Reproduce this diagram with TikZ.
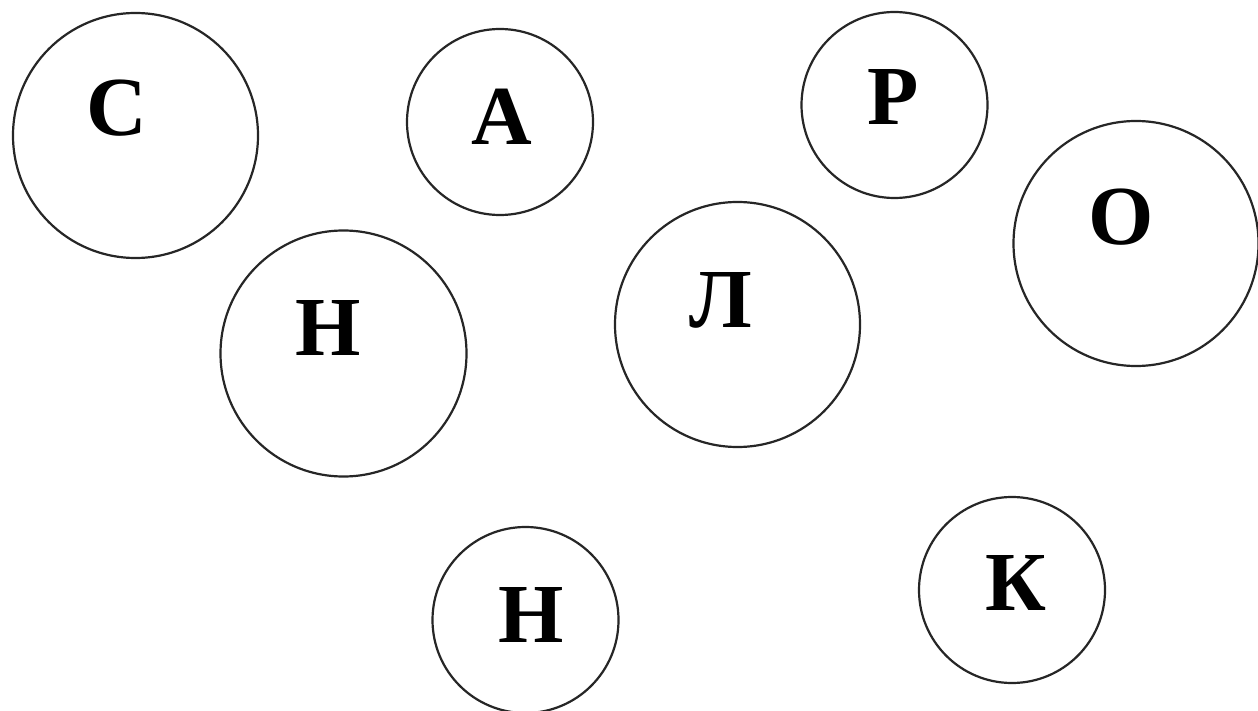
\documentclass[tikz,border=0pt]{standalone}
\usepackage{fontspec}
\setmainfont{Liberation Serif}
\begin{document}
\begin{tikzpicture}[x=1pt,y=-1pt,
  ring/.style={circle,draw=black!85,line width=2.2pt,inner sep=0pt,minimum size=#1},
  letter/.style={anchor=base,inner sep=0pt,font=\fontsize{84}{84}\selectfont\bfseries}]
\useasboundingbox[fill=white] (0,0) rectangle (1258,711);
\node[ring=245pt] (cS) at (135.5,135.5) {};
\node[ring=186pt] (cA) at (500,122) {};
\node[ring=186pt] (cR) at (894.5,105) {};
\node[ring=245pt] (cO) at (1136,243.5) {};
\node[ring=246pt] (cN1) at (343.5,353.5) {};
\node[ring=245pt] (cL) at (737.5,324.5) {};
\node[ring=186pt] (cN2) at (525.5,620) {};
\node[ring=186pt] (cK) at (1012,590) {};
\node[letter] (tS) at (117,136) {С};
\node[letter] (tA) at (502,145) {А};
\node[letter] (tR) at (893,125) {Р};
\node[letter] (tO) at (1121,245) {О};
\node[letter] (tN1) at (328,355) {Н};
\node[letter] (tL) at (721,327) {Л};
\node[letter] (tN2) at (531,642) {Н};
\node[letter] (tK) at (1016,610) {К};
\end{tikzpicture}
\end{document}
